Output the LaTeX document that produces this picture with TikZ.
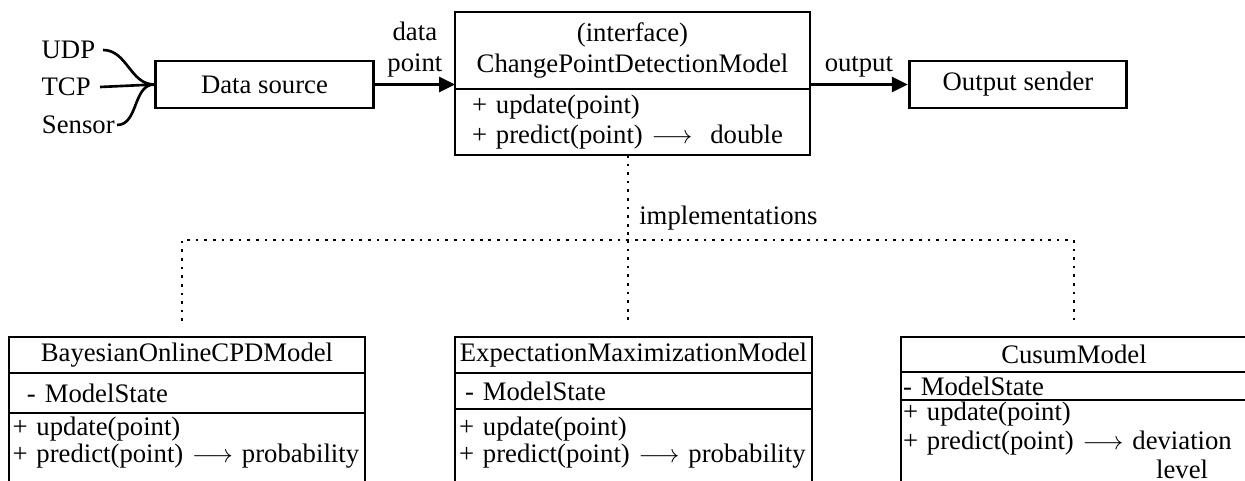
\documentclass[tikz,border=0pt]{standalone}
\usepackage{fontspec}
\setmainfont{Liberation Serif}
\usepackage{tikz}
\usetikzlibrary{arrows.meta,positioning}

\tikzset{
  block/.style={draw, line width=1.7pt, minimum width=4.35cm, minimum height=0.94cm},
  comp/.style={draw, line width=1.1pt, outer sep=0pt, inner ysep=0pt, anchor=north west},
  ops/.style={comp, align=left, font=\fontsize{15.2}{15.5}\selectfont},
  flow/.style={-{Triangle[length=9pt,width=8.5pt]}, line width=1.5pt},
  wire/.style={line width=1.5pt},
  impl/.style={line width=1.5pt, dash pattern=on 1.5pt off 3.4pt},
}

\begin{document}
\begin{tikzpicture}[font=\fontsize{15.2}{18}\selectfont]
        \clip (0,0) rectangle (24.9,-9.62);
        % sources and the two blocks
        \node[block] (SRC) at (5.29,-1.69) {Data source};
        \node[block] (OUT) at ([shift={+(15.07,0)}]SRC) {Output sender};
        \node[anchor=east, inner xsep=0.15cm] (UDP) at (2.06,-1.0) {UDP};
        \node[anchor=east, inner xsep=0.18cm] (TCP) at (2.0,-1.74) {TCP};
        \node[anchor=east, inner xsep=0.04cm] (SNS) at (2.34,-2.5) {Sensor};
        \draw[wire] (UDP.east) to[out=0,in=180] (SRC.west);
        \draw[wire] (TCP.east) -- (SRC.west);
        \draw[wire] (SNS.east) to[out=0,in=180] (SRC.west);
        % interface
        \node[comp, text width=7.1cm, inner xsep=0pt, minimum height=1.54cm, align=center] (CPD) at (9.1,-0.24) {(interface)\\ChangePointDetectionModel};
        \node[comp, text width=6.42cm, inner xsep=0.34cm, minimum height=1.32cm, align=left,
              font=\fontsize{15.2}{17}\selectfont] (CPDM) at (CPD.south west) {+ update(point)\\+ predict(point) $\longrightarrow$~ double};
        \draw[flow] (SRC.east) -- (SRC.east -| CPD.west) node[midway,above,align=center] {data\\point};
        \draw[flow] (OUT.west -| CPD.east) -- (OUT.west) node[midway,above] {output};
        % implementations
        \node[comp, text width=7.12cm, inner xsep=0pt, minimum height=0.72cm, align=center] (BOC) at (0.18,-6.74) {BayesianOnlineCPDModel};
        \node[comp, text width=6.4cm, inner xsep=0.36cm, minimum height=0.8cm, align=left] (BOCS) at (BOC.south west) {- ModelState};
        \node[ops, text width=6.98cm, inner xsep=0.07cm, inner ysep=0.08cm, text depth=1.4cm] (BOCM) at (BOCS.south west) {+ update(point)\\+ predict(point) $\longrightarrow$ probability};
        \node[comp, text width=7.14cm, inner xsep=0pt, minimum height=0.72cm, align=center] (EMM) at (9.1,-6.74) {ExpectationMaximizationModel};
        \node[comp, text width=6.74cm, inner xsep=0.2cm, minimum height=0.72cm, align=left] (EMMS) at (EMM.south west) {- ModelState};
        \node[ops, text width=6.98cm, inner xsep=0.08cm, inner ysep=0.16cm, text depth=1.4cm] (EMMM) at (EMMS.south west) {+ update(point)\\+ predict(point) $\longrightarrow$ probability};
        \node[comp, text width=6.92cm, inner xsep=0pt, minimum height=0.7cm, align=center] (CSM) at (18.02,-6.74) {CusumModel};
        \node[comp, text width=6.84cm, inner xsep=0.04cm, minimum height=0.56cm, align=left] (CSMS) at (CSM.south west) {- ModelState};
        \node[ops, text width=6.84cm, inner xsep=0.04cm, inner ysep=0.03cm, text depth=1.6cm,
              font=\fontsize{15.2}{16.5}\selectfont] (CSMM) at (CSMS.south west) {+ update(point)\\+ predict(point) $\longrightarrow$ \begin{tabular}[t]{@{}c@{}}deviation\\level\end{tabular}};
        \coordinate (IMPL) at (12.56,-4.8);
        \coordinate (BOCT) at (3.64,-6.42);
        \coordinate (EMMT) at (12.56,-6.42);
        \coordinate (CSMT) at (21.48,-6.42);
        \draw[impl] (CPDM.south -| IMPL) -- (IMPL) node[pos=0.74,right,inner xsep=0.2cm] {implementations};
        \draw[impl] (BOCT) |- (CSMT |- IMPL) -- (CSMT);
        \draw[impl] (IMPL) -- (EMMT);
    \end{tikzpicture}
\end{document}
